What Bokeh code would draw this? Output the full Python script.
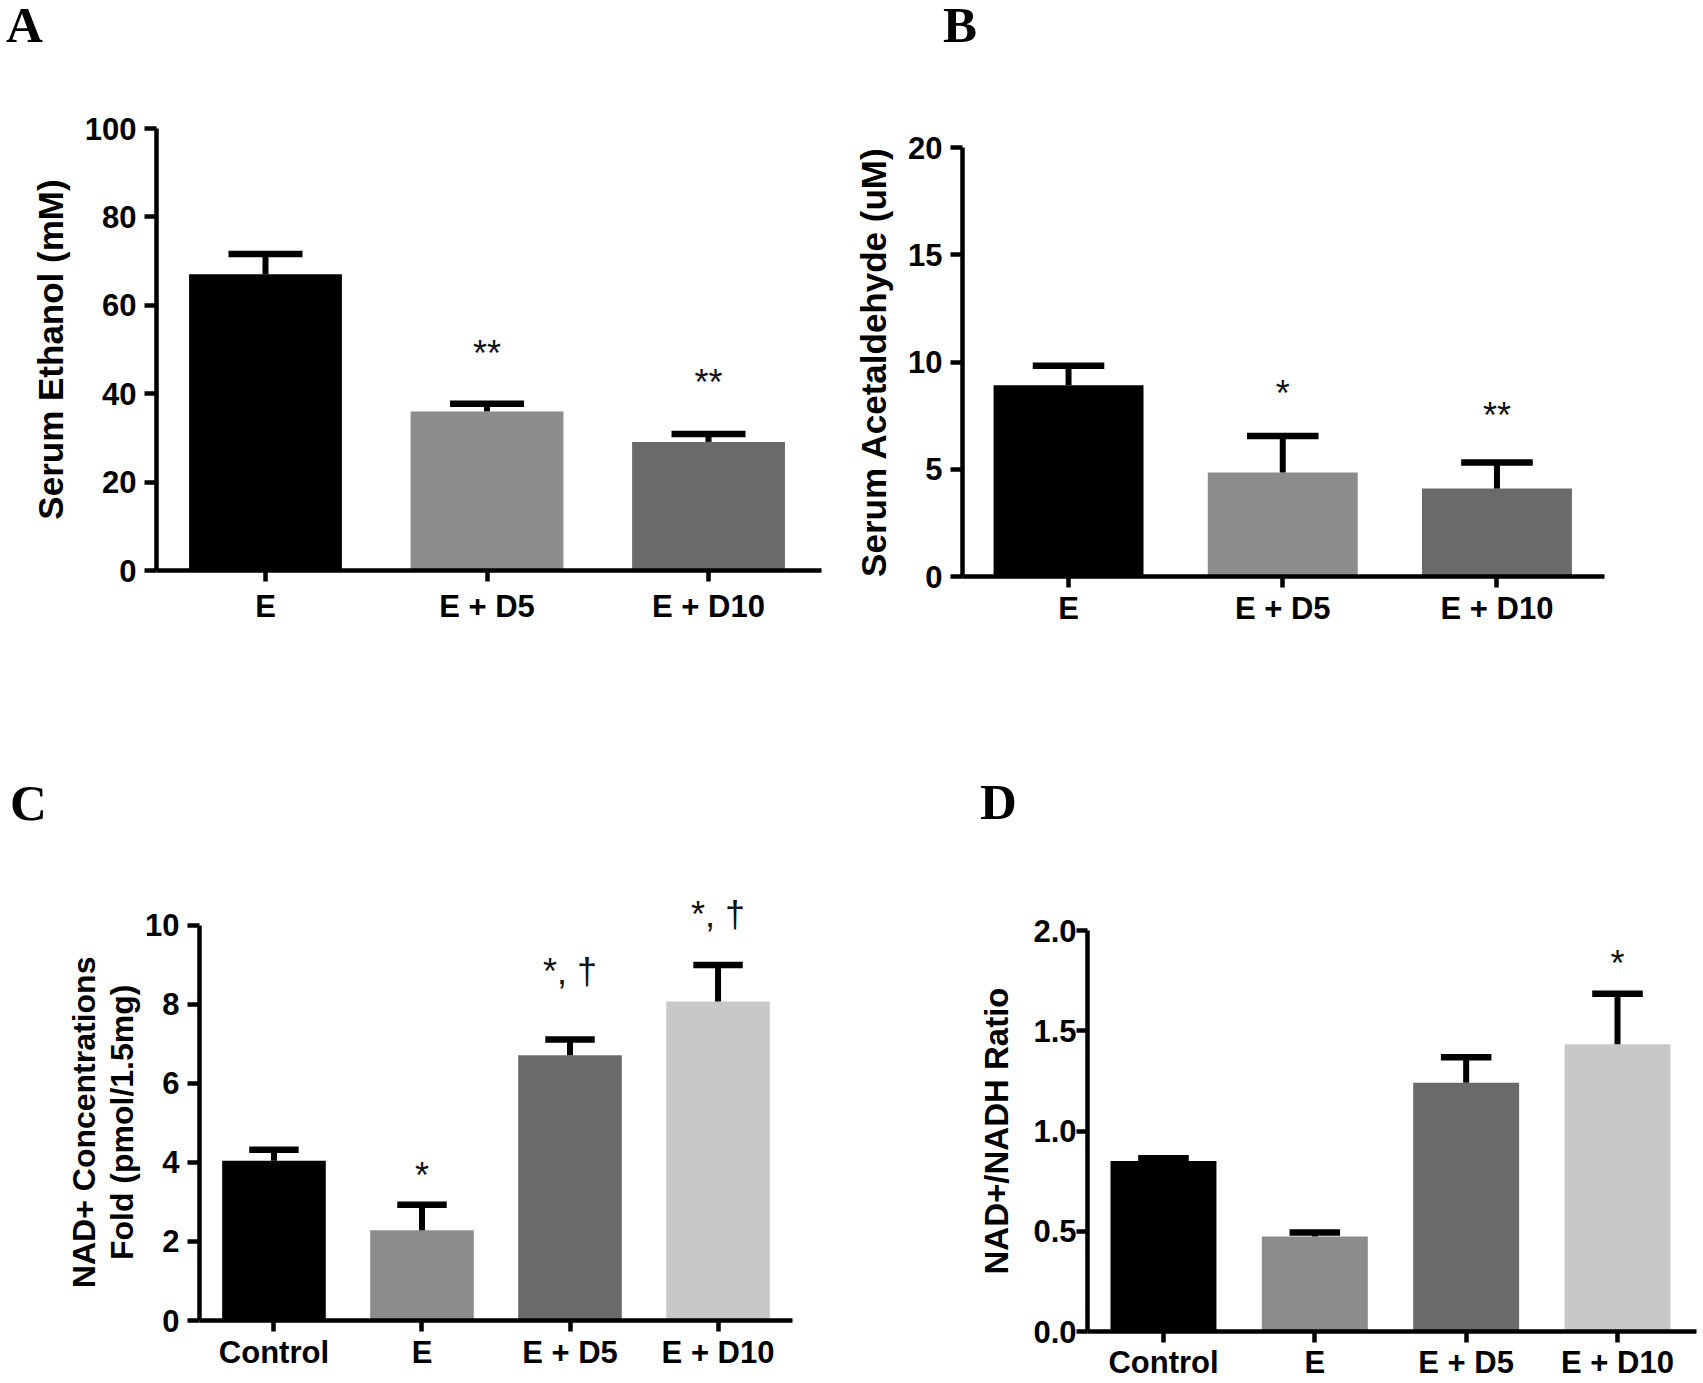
import numpy as np
from bokeh.plotting import figure
from bokeh.layouts import column, row
from bokeh.models import (FixedTicker, PrintfTickFormatter, LabelSet,
                          ColumnDataSource, Range1d, Div)
from bokeh.core.properties import value
from bokeh.embed import file_html
from bokeh.resources import INLINE

# ---------------- data ----------------
# Panel A
a_groups = ["E", "E + D5", "E + D10"]
a_mean = [67.0, 36.0, 29.1]
a_upper = [71.6, 37.7, 30.9]
a_sig = ["", "**", "**"]
a_sig_y = [0.0, 46.2, 39.6]
a_yticks = [0, 20, 40, 60, 80, 100]

# Panel B
b_groups = ["E", "E + D5", "E + D10"]
b_mean = [8.92, 4.85, 4.10]
b_upper = [9.82, 6.55, 5.31]
b_sig = ["", "*", "**"]
b_sig_y = [0.0, 7.95, 6.9]
b_yticks = [0, 5, 10, 15, 20]

# Panel C
c_groups = ["Control", "E", "E + D5", "E + D10"]
c_mean = [4.04, 2.28, 6.71, 8.07]
c_upper = [4.32, 2.93, 7.11, 8.99]
c_sig = ["", "*", "*, \u2020", "*, \u2020"]
c_sig_y = [0.0, 3.34, 8.5, 9.95]
c_yticks = [0, 2, 4, 6, 8, 10]

# Panel D
d_groups = ["Control", "E", "E + D5", "E + D10"]
d_mean = [0.85, 0.474, 1.241, 1.433]
d_upper = [0.864, 0.494, 1.368, 1.684]
d_sig = ["", "", "", "*"]
d_sig_y = [0.0, 0.0, 0.0, 1.775]
d_yticks = [0.0, 0.5, 1.0, 1.5, 2.0]

colors3 = ["#000000", "#8c8c8c", "#6a6a6a"]
colors4 = ["#000000", "#8c8c8c", "#6a6a6a", "#c8c8c8"]

FONT = "Liberation Sans"
NB = "\u00a0"


def letter_div(letter, width, height, left, top):
    html = ('<div style="font-family:\'Liberation Serif\',serif;'
            'font-weight:bold;font-size:51px;line-height:51px;color:#000;'
            'margin:0;padding:0;position:relative;'
            'left:%dpx;top:%dpx;">%s</div>' % (left, top, letter))
    return Div(text=html, width=width, height=height, margin=(0, 0, 0, 0))


def panel(groups, mean, upper, colors, sig, sig_y, yticks, ylabel,
          width, height, borders, xr, yr,
          yfmt=None, x_standoff=4, ylabel_size="35px", ylabel_standoff=12,
          bar_width=0.70, y_standoff=8, y_tick=12, ylabel_lh=1.2):
    L, R, T, B = borders
    p = figure(width=width, height=height, output_backend="svg",
               toolbar_location=None,
               x_range=Range1d(*xr), y_range=Range1d(*yr),
               min_border_left=L, min_border_right=R,
               min_border_top=T, min_border_bottom=B)
    p.frame_align = False
    p.outline_line_color = None
    p.xgrid.grid_line_color = None
    p.ygrid.grid_line_color = None
    p.background_fill_color = "white"
    p.border_fill_color = "white"

    xs = np.arange(len(groups), dtype=float)
    cap = 0.167
    src = ColumnDataSource(dict(x=xs, top=mean, up=upper, color=colors,
                                x0=xs - cap, x1=xs + cap))
    p.vbar(x="x", top="top", bottom=0, width=bar_width, fill_color="color",
           line_color=None, source=src)
    p.segment(x0="x", y0="top", x1="x", y1="up", line_width=6,
              line_color="black", line_cap="butt", source=src)
    p.segment(x0="x0", y0="up", x1="x1", y1="up", line_width=6.5,
              line_color="black", line_cap="butt", source=src)

    # significance markers
    ssrc = ColumnDataSource(dict(x=xs, y=sig_y, t=sig))
    p.add_layout(LabelSet(x="x", y="y", text="t", source=ssrc,
                          text_align="center", text_baseline="alphabetic",
                          text_font=value(FONT), text_font_size="36px",
                          text_color="#111111"))

    # y axis
    ya = p.yaxis[0]
    ya.ticker = FixedTicker(ticks=yticks)
    if yfmt:
        ya.formatter = PrintfTickFormatter(format=yfmt)
    ya.bounds = (yticks[0], yticks[-1])
    ya.major_tick_out = y_tick
    ya.major_tick_in = 0
    ya.minor_tick_line_color = None
    ya.axis_line_width = 4.5
    ya.major_tick_line_width = 4.5
    ya.axis_line_color = "black"
    ya.major_tick_line_color = "black"
    ya.major_label_text_font = FONT
    ya.major_label_text_font_style = "bold"
    ya.major_label_text_font_size = "31px"
    ya.major_label_text_color = "black"
    ya.major_label_standoff = y_standoff
    ya.axis_label = ylabel
    ya.axis_label_text_font = FONT
    ya.axis_label_text_font_style = "bold"
    ya.axis_label_text_font_size = ylabel_size
    ya.axis_label_text_color = "black"
    ya.axis_label_standoff = ylabel_standoff
    ya.axis_label_text_line_height = ylabel_lh

    # x axis
    xa = p.xaxis[0]
    xa.ticker = FixedTicker(ticks=list(range(len(groups))))
    xa.major_label_overrides = {i: g for i, g in enumerate(groups)}
    xa.major_tick_out = 11
    xa.major_tick_in = 0
    xa.minor_tick_line_color = None
    xa.axis_line_width = 4.5
    xa.major_tick_line_width = 4.5
    xa.axis_line_color = "black"
    xa.major_tick_line_color = "black"
    xa.major_label_text_font = FONT
    xa.major_label_text_font_style = "bold"
    xa.major_label_text_font_size = "31px"
    xa.major_label_text_color = "black"
    xa.major_label_standoff = x_standoff
    return p


pA = panel(a_groups, a_mean, a_upper, colors3, a_sig, a_sig_y, a_yticks,
           "Serum Ethanol (mM)", 850, 710, (156, 29, 78, 190),
           (-0.492, 2.510), (0, 100), x_standoff=7,
           ylabel_standoff=12, bar_width=0.69)
pB = panel(b_groups, b_mean, b_upper, colors3, b_sig, b_sig_y, b_yticks,
           "Serum Acetaldehyde (uM)", 852, 710, (112, 98, 97, 184),
           (-0.495, 2.502), (0, 20), x_standoff=3, ylabel_standoff=12)
pC = panel(c_groups, c_mean, c_upper, colors4, c_sig, c_sig_y, c_yticks,
           "NAD+ Concentrations" + NB * 3 + "\nFold (pmol/1.5mg)" + NB * 3,
           850, 552, (199, 58, 67, 62), (-0.503, 3.503), (0, 10.7),
           x_standoff=3, ylabel_size="32px", ylabel_standoff=2,
           ylabel_lh=1.05)
pD = panel(d_groups, d_mean, d_upper, colors4, d_sig, d_sig_y, d_yticks,
           "NAD+/NADH Ratio", 852, 552, (237, 6, 100, 50),
           (-0.502, 3.522), (0, 2.0), yfmt="%.1f", x_standoff=2,
           ylabel_size="33px", ylabel_standoff=15, y_standoff=0, y_tick=11)

dA = letter_div("A", 850, 50, 6, 0)
dB = letter_div("B", 852, 50, 93, 0)
dC = letter_div("C", 850, 70, 10, 18)
dD = letter_div("D", 852, 70, 130, 17)

layout = column(row(column(dA, pA), column(dB, pB)),
                row(column(dC, pC), column(dD, pD)))

with open("out.html", "w") as f:
    f.write(file_html(layout, INLINE))
